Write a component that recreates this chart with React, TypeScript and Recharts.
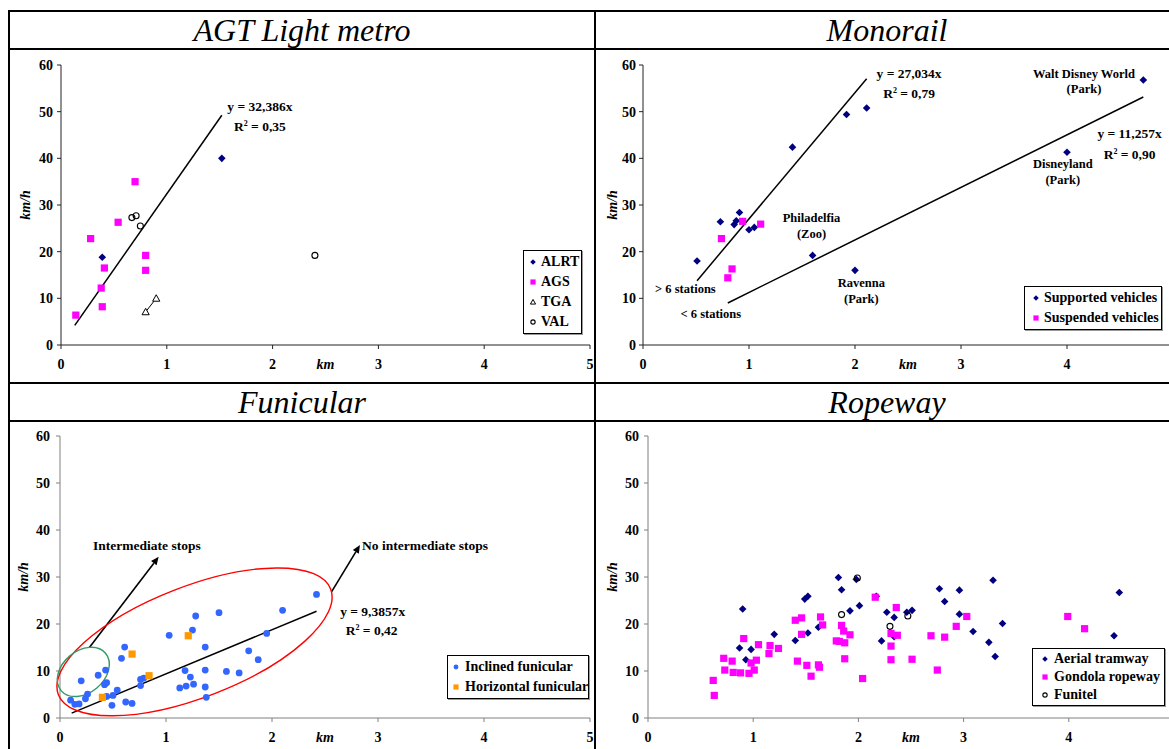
import React from "react";
import {
  ScatterChart,
  Scatter,
  XAxis,
  YAxis,
  ReferenceLine,
  ReferenceDot,
  Legend,
} from "recharts";

const SERIF = '"Liberation Serif", "Times New Roman", Times, serif';
const NAVY = "#000080";
const MAGENTA = "#FF00FF";
const BLUE = "#3366FF";
const ORANGE = "#FF9900";

const X_TICKS = [0, 1, 2, 3, 4, 5];
const X_TICKS_CUT = [0, 1, 2, 3, 4]; // right panels: the 5 falls outside the page
const Y_TICKS = [0, 10, 20, 30, 40, 50, 60];

// AGT light metro (km, km/h)
const alrt = [[0.39, 18.8], [1.52, 40.0]];
const ags = [
  [0.14, 6.4], [0.28, 22.8], [0.54, 26.3], [0.7, 35.0], [0.8, 19.2],
  [0.8, 16.0], [0.41, 16.5], [0.38, 12.2], [0.39, 8.2],
];
const tga = [[0.8, 7.1], [0.9, 10.0]];
const val = [[0.67, 27.3], [0.71, 27.7], [0.75, 25.5], [2.4, 19.2]];

// Monorail
const supported = [
  [0.51, 18.0], [0.73, 26.4], [0.86, 25.8], [0.88, 26.6], [0.91, 28.4],
  [1.0, 24.7], [1.05, 25.2], [1.41, 42.4], [1.6, 19.2], [1.92, 49.4],
  [2.11, 50.8], [2.0, 16.0], [4.0, 41.3], [4.72, 56.8],
];
const suspended = [[0.74, 22.8], [0.8, 14.4], [0.84, 16.3], [0.94, 26.5], [1.11, 25.9]];

// Funicular
const inclined = [
  [0.1, 3.8], [0.14, 2.9], [0.18, 3.0], [0.2, 7.9], [0.24, 4.1], [0.26, 5.1],
  [0.36, 9.1], [0.43, 10.2], [0.42, 7.1], [0.44, 7.5], [0.44, 4.6], [0.49, 2.7],
  [0.5, 4.8], [0.54, 5.9], [0.58, 12.7], [0.61, 15.1], [0.62, 3.4], [0.68, 3.1],
  [0.76, 6.9], [0.76, 8.2], [0.79, 8.5], [1.03, 17.6], [1.13, 6.4], [1.18, 10.1],
  [1.19, 6.8], [1.23, 8.7], [1.25, 18.7], [1.26, 7.2], [1.28, 21.7], [1.37, 15.1],
  [1.37, 10.2], [1.37, 6.6], [1.38, 4.4], [1.5, 22.4], [1.57, 9.9], [1.69, 9.6],
  [1.78, 14.3], [1.87, 12.4], [1.95, 18.0], [2.1, 22.9], [2.42, 26.3],
];
const horizontal = [[0.4, 4.4], [0.68, 13.6], [0.84, 9.0], [1.21, 17.5]];

// Ropeway
const aerial = [
  [0.87, 14.9], [0.9, 23.2], [0.93, 12.4], [0.98, 14.6], [1.2, 17.8], [1.4, 16.5],
  [1.49, 25.3], [1.52, 25.9], [1.52, 18.1], [1.62, 19.3], [1.81, 29.9], [1.84, 27.3],
  [1.92, 22.8], [1.98, 29.5], [2.01, 23.9], [2.17, 25.9], [2.22, 16.4], [2.27, 22.5],
  [2.34, 21.4], [2.34, 17.3], [2.46, 22.5], [2.51, 22.9], [2.77, 27.5], [2.82, 24.8],
  [2.96, 27.2], [2.96, 22.1], [3.09, 18.4], [3.24, 16.1], [3.28, 29.3], [3.3, 13.1],
  [3.37, 20.1], [4.43, 17.5], [4.48, 26.7],
];
const gondola = [
  [0.62, 8.0], [0.63, 4.8], [0.72, 12.7], [0.73, 10.2], [0.8, 12.1], [0.81, 9.7],
  [0.88, 9.6], [0.91, 16.9], [0.96, 9.5], [0.98, 11.7], [1.01, 10.2], [1.03, 12.3],
  [1.05, 15.6], [1.15, 13.7], [1.16, 15.4], [1.24, 14.8], [1.4, 20.8], [1.42, 12.1],
  [1.46, 21.3], [1.46, 17.8], [1.51, 11.2], [1.55, 8.9], [1.62, 11.3], [1.63, 10.8],
  [1.64, 21.5], [1.66, 19.8], [1.79, 16.4], [1.82, 16.3], [1.84, 19.7], [1.86, 18.5],
  [1.87, 16.0], [1.87, 12.6], [1.92, 17.7], [2.04, 8.4], [2.16, 25.7], [2.36, 23.5],
  [2.31, 18.0], [2.31, 15.3], [2.31, 12.4], [2.37, 17.6], [2.51, 12.5], [2.69, 17.5],
  [2.75, 10.2], [2.82, 17.2], [2.93, 19.5], [3.03, 21.6], [3.99, 21.6], [4.15, 19.0],
];
const funitel = [[1.84, 22.0], [1.99, 29.8], [2.3, 19.5], [2.47, 21.7]];

// regression lines y = slope * x, drawn between from..to km
const agtTrends = [{ slope: 32.386, from: 0.13, to: 1.52 }];
const monorailTrends = [
  { slope: 27.034, from: 0.51, to: 2.11 },
  { slope: 11.257, from: 0.8, to: 4.72 },
];
const funicularTrends = [{ slope: 9.3857, from: 0.11, to: 2.42 }];

type Note = { x: number; y: number; text: string; size?: number; anchor?: string };

const agtNotes: Note[] = [
  { x: 1.88, y: 51.1, text: "y = 32,386x", size: 13.5 },
  { x: 1.88, y: 46.8, text: "R^2 = 0,35", size: 13.5 },
];
const monorailNotes: Note[] = [
  { x: 2.51, y: 58.3, text: "y = 27,034x", size: 13.5 },
  { x: 2.51, y: 54.0, text: "R^2 = 0,79", size: 13.5 },
  { x: 4.59, y: 45.4, text: "y = 11,257x", size: 13.5 },
  { x: 4.59, y: 40.9, text: "R^2 = 0,90", size: 13.5 },
  { x: 4.16, y: 58.1, text: "Walt Disney World" },
  { x: 4.16, y: 54.9, text: "(Park)" },
  { x: 3.96, y: 38.8, text: "Disneyland" },
  { x: 3.96, y: 35.4, text: "(Park)" },
  { x: 1.59, y: 27.3, text: "Philadelfia" },
  { x: 1.59, y: 23.8, text: "(Zoo)" },
  { x: 2.06, y: 13.3, text: "Ravenna" },
  { x: 2.06, y: 10.0, text: "(Park)" },
  { x: 0.4, y: 12.0, text: "> 6 stations" },
  { x: 0.64, y: 6.8, text: "< 6 stations" },
];
const funicularNotes: Note[] = [
  { x: 0.82, y: 36.8, text: "Intermediate stops", size: 13.5 },
  { x: 2.85, y: 36.8, text: "No intermediate stops", size: 13.5, anchor: "start" },
  { x: 2.95, y: 22.8, text: "y = 9,3857x", size: 13.5 },
  { x: 2.94, y: 18.6, text: "R^2 = 0,42", size: 13.5 },
];
const funicularArrows = [
  { from: [0.277, 15.0], to: [0.931, 34.3] },
  { from: [2.563, 26.9], to: [2.83, 36.8] },
];

type Kind = "diamond" | "square" | "triangle" | "ring" | "dot";

const pts = (a: number[][]) => a.map(([x, y]) => ({ x, y }));

function mark(kind: Kind, cx: number, cy: number, color: string, s = 1) {
  switch (kind) {
    case "diamond": {
      const r = 3.8 * s;
      return <polygon points={`${cx},${cy - r} ${cx + r},${cy} ${cx},${cy + r} ${cx - r},${cy}`} fill={color} />;
    }
    case "square": {
      const h = 3.6 * s;
      return <rect x={cx - h} y={cy - h} width={2 * h} height={2 * h} fill={color} />;
    }
    case "triangle": {
      const r = 3.6 * s;
      return (
        <polygon
          points={`${cx},${cy - r} ${cx + r},${cy + r * 0.8} ${cx - r},${cy + r * 0.8}`}
          fill="#fff"
          stroke="#000"
          strokeWidth={1}
        />
      );
    }
    case "ring":
      return <circle cx={cx} cy={cy} r={3 * s} fill="none" stroke="#000" strokeWidth={1.1} />;
    default:
      return <circle cx={cx} cy={cy} r={3.4 * s} fill={color} />;
  }
}

type Series = { name: string; data: number[][]; kind: Kind; color: string; line?: boolean };

const agtSeries: Series[] = [
  { name: "ALRT", data: alrt, kind: "diamond", color: NAVY },
  { name: "AGS", data: ags, kind: "square", color: MAGENTA },
  { name: "TGA", data: tga, kind: "triangle", color: "#000", line: true },
  { name: "VAL", data: val, kind: "ring", color: "#000" },
];
const monorailSeries: Series[] = [
  { name: "Supported vehicles", data: supported, kind: "diamond", color: NAVY },
  { name: "Suspended vehicles", data: suspended, kind: "square", color: MAGENTA },
];
const funicularSeries: Series[] = [
  { name: "Inclined funicular", data: inclined, kind: "dot", color: BLUE },
  { name: "Horizontal funicular", data: horizontal, kind: "square", color: ORANGE },
];
const ropewaySeries: Series[] = [
  { name: "Aerial tramway", data: aerial, kind: "diamond", color: NAVY },
  { name: "Gondola ropeway", data: gondola, kind: "square", color: MAGENTA },
  { name: "Funitel", data: funitel, kind: "ring", color: "#000" },
];

const tickStyle = { fill: "#000", fontFamily: SERIF, fontWeight: "bold", fontSize: 14 };

function axes(color: string, yWidth: number, yMargin: number, yLabelX: number, xTicks: number[]) {
  return [
    <XAxis
      key="x"
      type="number"
      dataKey="x"
      domain={[0, 5]}
      ticks={xTicks}
      interval={0}
      stroke={color}
      tick={tickStyle}
      tickSize={4}
      tickMargin={10}
      height={30}
      label={(p: any) => {
        const vb = p.viewBox;
        return (
          <text
            x={vb.x + vb.width / 2}
            y={vb.y + 24}
            textAnchor="middle"
            fontFamily={SERIF}
            fontStyle="italic"
            fontWeight="bold"
            fontSize={14}
          >
            km
          </text>
        );
      }}
    />,
    <YAxis
      key="y"
      type="number"
      dataKey="y"
      domain={[0, 60]}
      ticks={Y_TICKS}
      interval={0}
      width={yWidth}
      stroke={color}
      tick={tickStyle}
      tickSize={4}
      tickMargin={yMargin}
      label={(p: any) => {
        const vb = p.viewBox;
        const cy = vb.y + vb.height / 2;
        return (
          <text
            x={yLabelX}
            y={cy}
            transform={`rotate(-90 ${yLabelX} ${cy})`}
            textAnchor="middle"
            dominantBaseline="central"
            fontFamily={SERIF}
            fontStyle="italic"
            fontWeight="bold"
            fontSize={14}
          >
            km/h
          </text>
        );
      }}
    />,
  ];
}

function scatters(list: Series[]) {
  return list.map((s) => (
    <Scatter
      key={s.name}
      name={s.name}
      data={pts(s.data)}
      fill={s.color}
      line={s.line ? { stroke: "#000", strokeWidth: 1 } : false}
      lineType="joint"
      shape={(p: any) => mark(s.kind, p.cx, p.cy, s.color)}
      isAnimationActive={false}
    />
  ));
}

function trends(list: { slope: number; from: number; to: number }[]) {
  return list.map((t, i) => (
    <ReferenceLine
      key={`t${i}`}
      segment={[
        { x: t.from, y: t.slope * t.from },
        { x: t.to, y: t.slope * t.to },
      ]}
      stroke="#000"
      strokeWidth={1.5}
      ifOverflow="visible"
    />
  ));
}

function notes(list: Note[]) {
  return list.map((n, i) => (
    <ReferenceDot
      key={`n${i}`}
      x={n.x}
      y={n.y}
      r={0}
      ifOverflow="visible"
      shape={(p: any) => {
        const parts = n.text.split("^2");
        return (
          <text
            x={p.cx}
            y={p.cy}
            dy="0.35em"
            textAnchor={n.anchor ?? "middle"}
            fontFamily={SERIF}
            fontWeight="bold"
            fontSize={n.size ?? 12.5}
            fill="#000"
          >
            {parts.length > 1 ? (
              <>
                {parts[0]}
                <tspan dy={-5} fontSize={8}>2</tspan>
                <tspan dy={5}>{parts[1]}</tspan>
              </>
            ) : (
              n.text
            )}
          </text>
        );
      }}
    />
  ));
}

function Arrow(p: any) {
  const { x1, y1, x2, y2 } = p;
  const a = Math.atan2(y2 - y1, x2 - x1);
  const L = 8;
  const W = 3.5;
  const bx = x2 - L * Math.cos(a);
  const by = y2 - L * Math.sin(a);
  const head = `${x2},${y2} ${bx - W * Math.sin(a)},${by + W * Math.cos(a)} ${bx + W * Math.sin(a)},${by - W * Math.cos(a)}`;
  return (
    <g>
      <line x1={x1} y1={y1} x2={bx} y2={by} stroke="#000" strokeWidth={1.6} />
      <polygon points={head} fill="#000" />
    </g>
  );
}

function ellipse(x: number, y: number, rx: number, ry: number, rot: number, color: string, key: string) {
  return (
    <ReferenceDot
      key={key}
      x={x}
      y={y}
      r={0}
      ifOverflow="visible"
      shape={(p: any) => (
        <ellipse
          cx={p.cx}
          cy={p.cy}
          rx={rx}
          ry={ry}
          transform={`rotate(${rot} ${p.cx} ${p.cy})`}
          fill="none"
          stroke={color}
          strokeWidth={1.4}
        />
      )}
    />
  );
}

// legend box drawn in series order (Recharts would sort it by name)
function legend(list: Series[], box: { left: number; top: number; width: number; row: number; mx: number; tx: number }) {
  return (
    <Legend
      layout="horizontal"
      verticalAlign="middle"
      align="center"
      wrapperStyle={{ left: box.left, top: box.top, width: box.width, right: "auto", bottom: "auto" }}
      content={() => (
        <div
          style={{
            border: "1px solid #000",
            background: "#fff",
            boxShadow: "1px 1px 0 #999",
            padding: "1px 0",
            fontFamily: SERIF,
            fontWeight: "bold",
            fontSize: 14,
            color: "#000",
          }}
        >
          {list.map((s) => (
            <div key={s.name} style={{ display: "flex", alignItems: "center", height: box.row }}>
              <svg width={box.tx} height={box.row} style={{ flex: "none" }}>
                {mark(s.kind, box.mx, box.row / 2, s.color, 0.72)}
              </svg>
              <span style={{ whiteSpace: "nowrap", lineHeight: 1 }}>{s.name}</span>
            </div>
          ))}
        </div>
      )}
    />
  );
}

const line = (style: React.CSSProperties) => (
  <div style={{ position: "absolute", background: "#000", zIndex: 5, ...style }} />
);

function Title({ text, left, top, width }: { text: string; left: number; top: number; width: number }) {
  return (
    <div
      style={{
        position: "absolute",
        left,
        top,
        width,
        height: 36,
        lineHeight: "36px",
        textAlign: "center",
        fontFamily: SERIF,
        fontStyle: "italic",
        fontSize: 32,
        color: "#000",
      }}
    >
      {text}
    </div>
  );
}

export default function App() {
  return (
    <div
      style={{
        position: "absolute",
        left: 0,
        top: 0,
        width: 1169,
        height: 749,
        overflow: "hidden",
        background: "#fff",
      }}
    >
      {line({ left: 8, top: 10, width: 1170, height: 2 })}
      {line({ left: 8, top: 48, width: 1170, height: 2 })}
      {line({ left: 8, top: 382, width: 1170, height: 2 })}
      {line({ left: 8, top: 420, width: 1170, height: 2 })}
      {line({ left: 8, top: 10, width: 2, height: 740 })}
      {line({ left: 594, top: 10, width: 2, height: 740 })}

      <Title text="AGT Light metro" left={10} top={12} width={584} />
      <Title text="Monorail" left={596} top={12} width={582} />
      <Title text="Funicular" left={10} top={384} width={584} />
      <Title text="Ropeway" left={596} top={384} width={582} />

      <div style={{ position: "absolute", left: 10, top: 52 }}>
        <ScatterChart width={590} height={323} margin={{ top: 13, right: 10, bottom: 0, left: 0 }}>
          {axes("#222", 51, 4, 15, X_TICKS)}
          {trends(agtTrends)}
          {scatters(agtSeries)}
          {notes(agtNotes)}
          {legend(agtSeries, { left: 513, top: 198, width: 59, row: 20, mx: 9, tx: 17 })}
        </ScatterChart>
      </div>

      <div style={{ position: "absolute", left: 600, top: 52 }}>
        <ScatterChart width={583} height={323} margin={{ top: 13, right: 10, bottom: 0, left: 0 }}>
          {axes("#222", 43, 3, 12, X_TICKS_CUT)}
          {trends(monorailTrends)}
          {scatters(monorailSeries)}
          {notes(monorailNotes)}
          {legend(monorailSeries, { left: 424, top: 234, width: 138, row: 20, mx: 11, tx: 19 })}
        </ScatterChart>
      </div>

      <div style={{ position: "absolute", left: 10, top: 420 }}>
        <ScatterChart width={590} height={328} margin={{ top: 16, right: 10, bottom: 0, left: 0 }}>
          {axes("#808080", 50, 6, 13, X_TICKS)}
          {ellipse(1.269, 16.2, 146, 55.5, -21.2, "#FF0000", "red")}
          {ellipse(0.22, 9.8, 29, 21, -40, "#339966", "green")}
          {funicularArrows.map((a, i) => (
            <ReferenceLine
              key={`a${i}`}
              segment={[
                { x: a.from[0], y: a.from[1] },
                { x: a.to[0], y: a.to[1] },
              ]}
              ifOverflow="visible"
              shape={Arrow}
            />
          ))}
          {trends(funicularTrends)}
          {scatters(funicularSeries)}
          {notes(funicularNotes)}
          {legend(funicularSeries, { left: 437, top: 235, width: 142, row: 20, mx: 8, tx: 17 })}
        </ScatterChart>
      </div>

      <div style={{ position: "absolute", left: 600, top: 420 }}>
        <ScatterChart width={584} height={328} margin={{ top: 16, right: 10, bottom: 0, left: 0 }}>
          {axes("#808080", 48, 5, 12, X_TICKS_CUT)}
          {scatters(ropewaySeries)}
          {legend(ropewaySeries, { left: 432, top: 228, width: 133, row: 18, mx: 12, tx: 21 })}
        </ScatterChart>
      </div>
    </div>
  );
}
